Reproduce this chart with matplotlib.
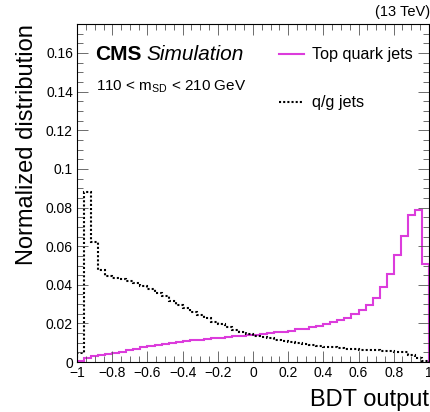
import numpy as np
import matplotlib
matplotlib.use('Agg')
import matplotlib.pyplot as plt
from matplotlib.ticker import MultipleLocator, FuncFormatter

plt.rcParams['font.family'] = ['Liberation Sans', 'DejaVu Sans']
plt.rcParams['mathtext.fontset'] = 'custom'
plt.rcParams['mathtext.rm'] = 'Liberation Sans'
plt.rcParams['mathtext.it'] = 'Liberation Sans:italic'

# Bin edges of the BDT output histogram (50 bins from -1 to 1)
bin_lo = -1.0
bin_hi = 1.0
n_bins = 50

# Top quark jets
top_jets = [0.0005, 0.0024, 0.0030, 0.0036, 0.0042, 0.0048, 0.0055, 0.0062, 0.0070, 0.0077,
            0.0085, 0.0091, 0.0096, 0.0100, 0.0104, 0.0108, 0.0112, 0.0116, 0.0119, 0.0123,
            0.0126, 0.0130, 0.0134, 0.0137, 0.0141,
            0.0143, 0.0147, 0.0150, 0.0154, 0.0157, 0.0162, 0.0169, 0.0173, 0.0181, 0.0188,
            0.0195, 0.0207, 0.0218, 0.0228, 0.0249, 0.0269, 0.0295, 0.0330, 0.0390, 0.0456,
            0.0553, 0.0653, 0.0760, 0.0788, 0.0507]

# q/g jets
qg_jets = [0.0045, 0.0880, 0.0623, 0.0478, 0.0445, 0.0437, 0.0430, 0.0422, 0.0412, 0.0395,
           0.0378, 0.0360, 0.0340, 0.0318, 0.0298, 0.0278, 0.0260, 0.0242, 0.0226, 0.0210,
           0.0195, 0.0180, 0.0167, 0.0155, 0.0145,
           0.0137, 0.0130, 0.0123, 0.0117, 0.0111, 0.0104, 0.0098, 0.0093, 0.0088, 0.0084,
           0.0080, 0.0077, 0.0073, 0.0069, 0.0066, 0.0064, 0.0062, 0.0061, 0.0060, 0.0058,
           0.0055, 0.0050, 0.0038, 0.0022, 0.0006]

edges = np.linspace(bin_lo, bin_hi, n_bins + 1)

fig = plt.figure(figsize=(4.31, 4.12), dpi=100)
ax = fig.add_axes([0.179, 0.121, 0.816, 0.821])

ax.stairs(top_jets, edges, color='#dc3cdc', linewidth=1.5, label='Top quark jets')
ax.stairs(qg_jets, edges, color='black', linewidth=1.5, linestyle=(0, (1, 1)), label='q/g jets')

ax.set_xlim(-1, 1)
ax.set_ylim(0, 0.175)

ax.xaxis.set_major_locator(MultipleLocator(0.2))
ax.xaxis.set_minor_locator(MultipleLocator(0.05))
ax.yaxis.set_major_locator(MultipleLocator(0.02))
ax.yaxis.set_minor_locator(MultipleLocator(0.005))

def fmt(v, pos):
    s = '%.2f' % v
    s = s.rstrip('0').rstrip('.')
    if s in ('-0', ''):
        s = '0'
    return s.replace('-', '\u2212')

ax.xaxis.set_major_formatter(FuncFormatter(fmt))
ax.yaxis.set_major_formatter(FuncFormatter(fmt))

ax.tick_params(which='both', direction='in', top=True, right=True, labelsize=10, width=0.6,
               color='#555555')
ax.tick_params(which='major', length=8, pad=3)
ax.tick_params(which='minor', length=4)
for sp in ax.spines.values():
    sp.set_linewidth(0.8)

ax.set_xlabel('BDT output', fontsize=17, loc='right', labelpad=6)
ax.set_ylabel('Normalized distribution', fontsize=17, loc='top', labelpad=6)

ax.text(0.052, 0.91, 'CMS', transform=ax.transAxes, fontsize=15, fontweight='bold', va='center')
ax.text(0.197, 0.91, 'Simulation', transform=ax.transAxes, fontsize=15, style='italic', va='center')
ax.text(0.055, 0.815, r'110 < m$_{\mathregular{SD}}$ < 210 GeV', transform=ax.transAxes,
        fontsize=11, va='center')
fig.text(0.997, 0.972, '(13 TeV)', ha='right', va='center', fontsize=10.5)

ax.legend(loc='upper left', bbox_to_anchor=(0.55, 0.955), frameon=False, fontsize=11.6,
          handlelength=1.6, handletextpad=0.5, labelspacing=2.05, borderpad=0)

fig.savefig('out.png', dpi=100)
